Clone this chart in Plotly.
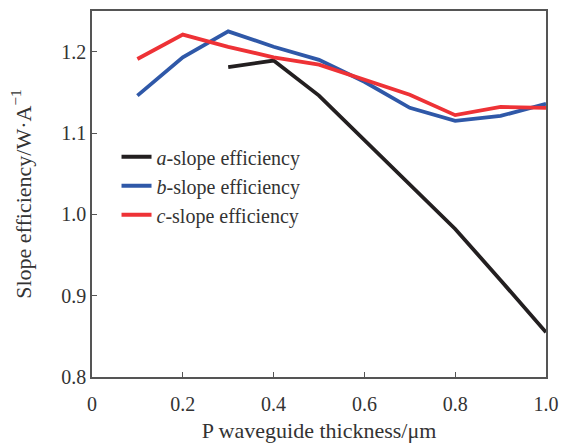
import plotly.graph_objects as go

x_a = [0.3, 0.4, 0.5, 0.6, 0.7, 0.8, 0.9, 1.0]
y_a = [1.181, 1.189, 1.146, 1.091, 1.036, 0.982, 0.919, 0.855]
x_bc = [0.1, 0.2, 0.3, 0.4, 0.5, 0.6, 0.7, 0.8, 0.9, 1.0]
y_b = [1.146, 1.193, 1.225, 1.206, 1.190, 1.163, 1.131, 1.115, 1.121, 1.136]
y_c = [1.191, 1.221, 1.206, 1.193, 1.184, 1.166, 1.147, 1.122, 1.132, 1.131]

names = ["<i>a</i>-slope efficiency", "<i>b</i>-slope efficiency", "<i>c</i>-slope efficiency"]
colors = ["#231f20", "#2f58a8", "#ee3236"]

FONT = "Liberation Serif"
fig = go.Figure()
fig.add_trace(go.Scatter(x=x_a, y=y_a, mode="lines", name=names[0], line=dict(color=colors[0], width=3.8)))
fig.add_trace(go.Scatter(x=x_bc, y=y_b, mode="lines", name=names[1], line=dict(color=colors[1], width=3.8)))
fig.add_trace(go.Scatter(x=x_bc, y=y_c, mode="lines", name=names[2], line=dict(color=colors[2], width=3.8)))

axis_common = dict(showline=True, linecolor="#555555", linewidth=1.5, mirror=True,
                   ticks="inside", ticklen=5, tickcolor="#555555", showgrid=False, zeroline=False,
                   automargin=False,
                   tickfont=dict(family=FONT, size=20, color="#333333"))
fig.update_layout(
    width=570, height=443,
    margin=dict(l=92, r=24, t=11, b=66),
    paper_bgcolor="white", plot_bgcolor="white",
    font=dict(family=FONT, size=20, color="#333333"),
    xaxis=dict(range=[0, 1.0], tickvals=[0, 0.2, 0.4, 0.6, 0.8, 1.0],
               ticktext=["0", "0.2", "0.4", "0.6", "0.8", "1.0"],
               ticklabelstandoff=8,
               title=dict(text="P waveguide thickness/μm", font=dict(family=FONT, size=22), standoff=9),
               **axis_common),
    yaxis=dict(range=[0.8, 1.25], tickvals=[0.8, 0.9, 1.0, 1.1, 1.2],
               ticktext=["0.8", "0.9", "1.0", "1.1", "1.2"],
               title=dict(text="Slope efficiency/W·A<sup>−1</sup>", font=dict(family=FONT, size=22), standoff=24),
               **axis_common),
    legend=dict(x=0.054, y=0.655, xanchor="left", yanchor="top", bgcolor="rgba(0,0,0,0)",
                font=dict(family=FONT, size=20, color="#333333"), tracegroupgap=0),
    showlegend=True,
)
fig.write_html("out.html", config={"displayModeBar": False},
               post_script="document.body.style.margin='0';document.body.style.padding='0';window.dispatchEvent(new Event('resize'));")
